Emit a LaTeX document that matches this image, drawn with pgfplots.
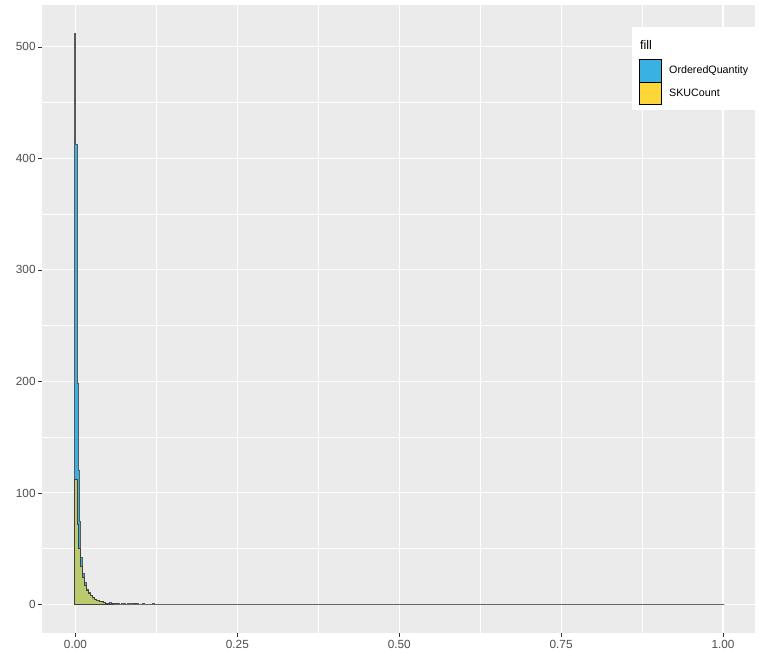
\documentclass[border=0pt]{standalone}
\usepackage{fontspec}
\setmainfont{Liberation Sans}
\usepackage{pgfplots}
\pgfplotsset{compat=1.18}
\definecolor{panelbg}{HTML}{EBEBEB}
\definecolor{qblue}{HTML}{3AB1E3}
\definecolor{qyellow}{HTML}{FCD737}
\definecolor{ticktxt}{HTML}{4D4D4D}
\definecolor{tickcol}{HTML}{333333}
\begin{document}
\begin{tikzpicture}[x=1bp,y=1bp]
\useasboundingbox (0,0) rectangle (759,654);
\begin{axis}[
  at={(42bp,21bp)}, anchor=south west,
  width=713bp, height=628bp, scale only axis,
  xmin=-0.0517, xmax=1.0494, ymin=-25.6, ymax=537.6,
  axis background/.style={fill=panelbg},
  axis line style={draw=none},
  grid=both,
  major grid style={white, line width=1.1bp},
  minor grid style={white, line width=0.55bp},
  xtick={0,0.25,0.5,0.75,1},
  xticklabels={0.00,0.25,0.50,0.75,1.00},
  minor xtick={0.125,0.375,0.625,0.875},
  ytick={0,100,200,300,400,500},
  yticklabels={0,100,200,300,400,500},
  minor ytick={50,150,250,350,450},
  xtick pos=bottom, ytick pos=left,
  tick align=outside,
  major tick length=3.7bp, minor tick length=0pt,
  tick style={color=tickcol, line width=0.6bp},
  tick label style={font=\fontsize{11.8bp}{13bp}\selectfont, text=ticktxt, inner sep=0pt},
  xticklabel style={yshift=-3bp},
  yticklabel style={xshift=-2.5bp},
  clip=false,
]
% OrderedQuantity histogram (left bin edges, counts)
\addplot[const plot mark left, fill=qblue, draw=black!65, line width=0.5bp] coordinates {
(-0.0015,0) (-0.0015,512) (-0.0006,413) (0.0032,198) (0.0042,120) (0.0055,75) (0.0075,42) (0.0105,28)
(0.0135,20) (0.0165,14) (0.0195,11) (0.0225,8) (0.0255,6) (0.0285,5)
(0.0315,4) (0.0345,3) (0.0375,3) (0.0405,2) (0.0435,2) (0.0465,1)
(0.0495,1) (0.0525,2) (0.0555,1) (0.0585,1) (0.0615,0) (0.0645,1)
(0.0675,0) (0.0705,1) (0.0735,1) (0.0765,0) (0.0795,1) (0.0825,1)
(0.0855,1) (0.0885,1) (0.0915,0) (0.0945,1) (0.0975,0) (0.1035,1)
(0.1065,0) (0.1185,1) (0.1215,0) (1.0015,0)
} \closedcycle;
% SKUCount histogram
\addplot[const plot mark left, fill=qyellow, fill opacity=0.67, draw=black!75, line width=0.6bp] coordinates {
(-0.0015,0) (-0.0015,112) (0.0025,72) (0.0045,50) (0.0075,34) (0.0105,24) (0.0135,17)
(0.0165,13) (0.0195,10) (0.0225,8) (0.0255,6) (0.0285,5) (0.0315,4)
(0.0345,4) (0.0375,3) (0.0405,3) (0.0435,2) (0.0465,1) (0.0495,1)
(0.0525,0) (0.0555,1) (0.0585,0) (0.0615,1) (0.0645,0) (0.0915,1)
(0.0945,0) (1.0015,0)
} \closedcycle;
\addplot[draw=black!60, line width=1.6bp] coordinates {(0.06,0) (1.0015,0)};
\end{axis}
% legend
\fill[white] (632,544) rectangle (759,627);
\node[anchor=west, inner sep=0pt, font=\fontsize{12.5bp}{14bp}\selectfont, text=black] at (640,609) {fill};
\draw[fill=qblue, draw=black, line width=0.6bp] (639,572) rectangle (661,595);
\draw[fill=qyellow, draw=black, line width=0.6bp] (639,550) rectangle (661,572);
\node[anchor=west, inner sep=0pt, font=\fontsize{10.7bp}{12bp}\selectfont, text=black] at (669,583.5) {OrderedQuantity};
\node[anchor=west, inner sep=0pt, font=\fontsize{10.7bp}{12bp}\selectfont, text=black] at (669,561) {SKUCount};
\end{tikzpicture}
\end{document}
